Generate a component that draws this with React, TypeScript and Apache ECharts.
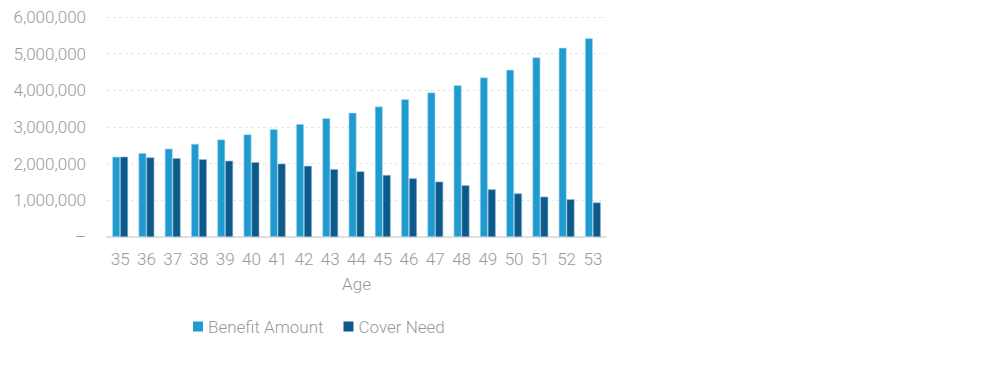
import React, { useEffect, useRef } from "react";
import * as echarts from "echarts";

const ages = ["35","36","37","38","39","40","41","42","43","44","45","46","47","48","49","50","51","52","53"];
const benefitAmount = [2190000,2290000,2410000,2540000,2660000,2800000,2940000,3080000,3240000,3390000,3560000,3760000,3940000,4140000,4350000,4560000,4900000,5160000,5420000];
const coverNeed = [2190000,2170000,2150000,2120000,2080000,2040000,2000000,1940000,1850000,1790000,1690000,1600000,1510000,1410000,1300000,1190000,1100000,1030000,940000];
const seriesNames = ["Benefit Amount", "Cover Need"];

const FONT = "Roboto";
const GREY = "#9a9a9a";
const W = 300;
const FS = 17;

export default function App() {
  const ref = useRef<HTMLDivElement>(null);
  useEffect(() => {
    document.body.style.margin = "0";
    const chart = echarts.init(ref.current!, null, { renderer: "svg" });
    chart.setOption({
      animation: false,
      textStyle: { fontFamily: FONT },
      grid: { left: 107, right: 394, top: 17, bottom: 138, containLabel: false },
      legend: {
        data: seriesNames,
        left: 188,
        top: 313,
        itemWidth: 10,
        itemHeight: 10,
        itemGap: 20,
        icon: "rect",
        itemStyle: { borderWidth: 0 },
        textStyle: { color: GREY, fontSize: FS, fontFamily: FONT, fontWeight: W },
      },
      xAxis: {
        type: "category",
        data: ages,
        name: "Age",
        nameLocation: "middle",
        nameGap: 38,
        nameTextStyle: { color: GREY, fontSize: FS, fontFamily: FONT, fontWeight: W },
        axisLine: { show: true, lineStyle: { color: "#d9d9d9", width: 1.5 } },
        axisTick: { show: false },
        axisLabel: { color: GREY, fontSize: FS, fontFamily: FONT, fontWeight: W, margin: 13, interval: 0 },
      },
      yAxis: {
        type: "value",
        min: 0,
        max: 6000000,
        interval: 1000000,
        axisLine: { show: false },
        axisTick: { show: false },
        splitLine: { show: true, lineStyle: { color: "#e6e6e6", type: [3, 3], width: 1 } },
        axisLabel: {
          color: GREY,
          fontSize: FS,
          fontFamily: FONT,
          fontWeight: W,
          margin: 21,
          formatter: (v: number) => (v === 0 ? "–" : v.toLocaleString("en-US")),
        },
      },
      series: [
        {
          name: seriesNames[0],
          type: "bar",
          data: benefitAmount,
          barGap: "0%",
          barCategoryGap: "40%",
          itemStyle: { color: "#1f9bd0", borderColor: "#b9def0", borderWidth: 0.6 },
        },
        {
          name: seriesNames[1],
          type: "bar",
          data: coverNeed,
          barGap: "0%",
          barCategoryGap: "40%",
          itemStyle: { color: "#0c5a8b", borderColor: "#8fb3cc", borderWidth: 0.6 },
        },
      ],
    });
    return () => chart.dispose();
  }, []);
  return <div ref={ref} style={{ width: 1000, height: 375 }} />;
}
